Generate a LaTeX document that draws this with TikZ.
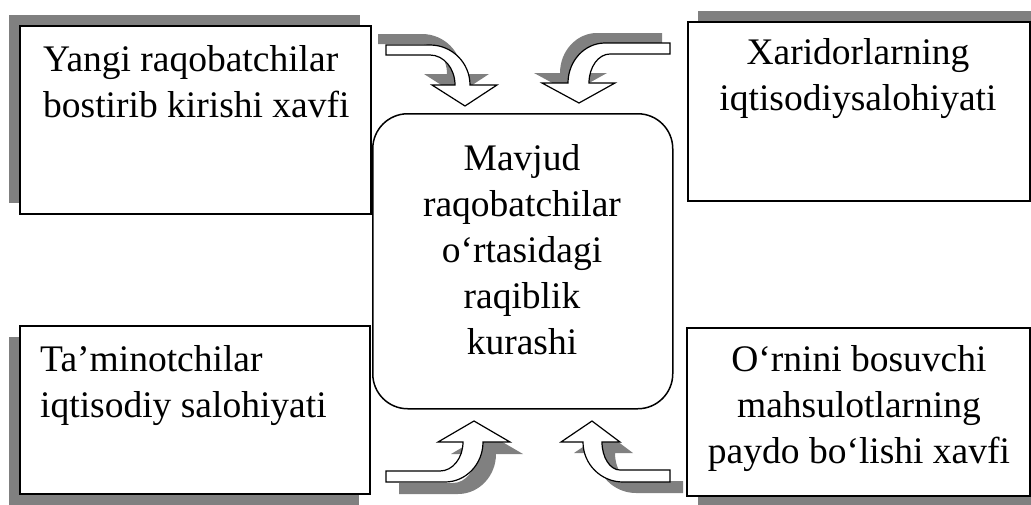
\documentclass[tikz,border=0pt]{standalone}
\usepackage{fontspec}
\setmainfont{Liberation Serif}[Ligatures=CommonOff]
\usetikzlibrary{shadows}
\definecolor{shadowgray}{HTML}{808080}

% outlines of the four bent block arrows (pixel-like units, y grows downwards)
\newcommand\arrowTL{(386,45) -- (430,45) .. controls (452.1,45) and (470,62.9) .. (470,85)
  -- (497,85) -- (465,106) -- (432,85) -- (455,85)
  .. controls (455,68.4) and (443.8,55) .. (430,55) -- (386,55) -- cycle}
\newcommand\arrowTR{(670,43) -- (605,43) .. controls (584.6,43) and (568,60.9) .. (568,83)
  -- (542,83) -- (579,103) -- (615,83) -- (589,83)
  .. controls (589,67) and (598.4,54) .. (610,54) -- (670,54) -- cycle}
\newcommand\arrowBL{(386,482) -- (445,482) .. controls (466,482) and (483,464.1) .. (483,442)
  -- (510,442) -- (474,421) -- (438,442) -- (463,442)
  .. controls (463,458) and (452.7,471) .. (440,471) -- (386,471) -- cycle}
\newcommand\arrowBR{(670,482) -- (623,482) .. controls (600.9,482) and (583,464.1) .. (583,442)
  -- (561,442) -- (592,421) -- (620,442) -- (602,442)
  .. controls (602,457.5) and (610.1,470) .. (620,470) -- (670,470) -- cycle}

\begin{document}
\begin{tikzpicture}[x=1pt,y=-1pt,
  panel/.style={draw=black, line width=1.5pt, fill=white, inner sep=0pt, anchor=north west},
  boxshadow/.style 2 args={drop shadow={shadow xshift=#1, shadow yshift=#2,
    fill=shadowgray, opacity=1}},
  shade/.style={fill=shadowgray, draw=none},
  hub/.style={draw=black, line width=1.5pt, fill=white, rounded corners=35pt,
    inner sep=0pt, anchor=north west},
  blockarrow/.style={draw=black, line width=1.2pt, fill=white, line join=miter},
  txt/.style={inner sep=0pt, font=\fontsize{37.5}{46}\selectfont},
]
\useasboundingbox (0,0) rectangle (1031,504);
\clip (0,0) rectangle (1031,504);

% the four outer boxes, each with its offset shadow
\node[panel, boxshadow={-11pt}{11pt}, minimum width=351pt, minimum height=188pt] (tl) at (19,25) {};
\node[panel, boxshadow={-11pt}{-11pt}, minimum width=350pt, minimum height=168pt] (bl) at (19,325) {};
\node[panel, boxshadow={10pt}{11pt}, minimum width=342pt, minimum height=179pt] (tr) at (687,21) {};
\node[panel, boxshadow={11pt}{-9pt}, minimum width=343pt, minimum height=168pt] (br) at (686,327) {};

% central rounded box
\node[hub, minimum width=300pt, minimum height=295pt] (hub) at (372,113) {};

% bent arrows with their shadows
\fill[shade, shift={(-8,-11)}] \arrowTL;
\draw[blockarrow] \arrowTL;
\fill[shade, shift={(-8,-10)}] \arrowTR;
\draw[blockarrow] \arrowTR;
\fill[shade, shift={(13,12)}] \arrowBL;
\draw[blockarrow] \arrowBL;
\fill[shade, shift={(13,11)}] \arrowBR;
\draw[blockarrow] \arrowBR;

% labels
\node[txt, anchor=base west] (tlt) at (43,71)
  {\begin{tabular}[t]{@{}l@{}}Yangi raqobatchilar\\bostirib kirishi xavfi\end{tabular}};
\node[txt, anchor=base] (trt) at (858,64.5)
  {\begin{tabular}[t]{@{}c@{}}Xaridorlarning\\iqtisodiysalohiyati\end{tabular}};
\node[txt, anchor=base west] (blt) at (40,371)
  {\begin{tabular}[t]{@{}l@{}}Ta’minotchilar\\iqtisodiy salohiyati\end{tabular}};
\node[txt, anchor=base] (brt) at (859,371.5)
  {\begin{tabular}[t]{@{}c@{}}O‘rnini bosuvchi\\mahsulotlarning\\paydo bo‘lishi xavfi\end{tabular}};
\node[txt, anchor=base] (hubt) at (522,170)
  {\begin{tabular}[t]{@{}c@{}}Mavjud\\raqobatchilar\\o‘rtasidagi\\raqiblik\\kurashi\end{tabular}};
\end{tikzpicture}
\end{document}
